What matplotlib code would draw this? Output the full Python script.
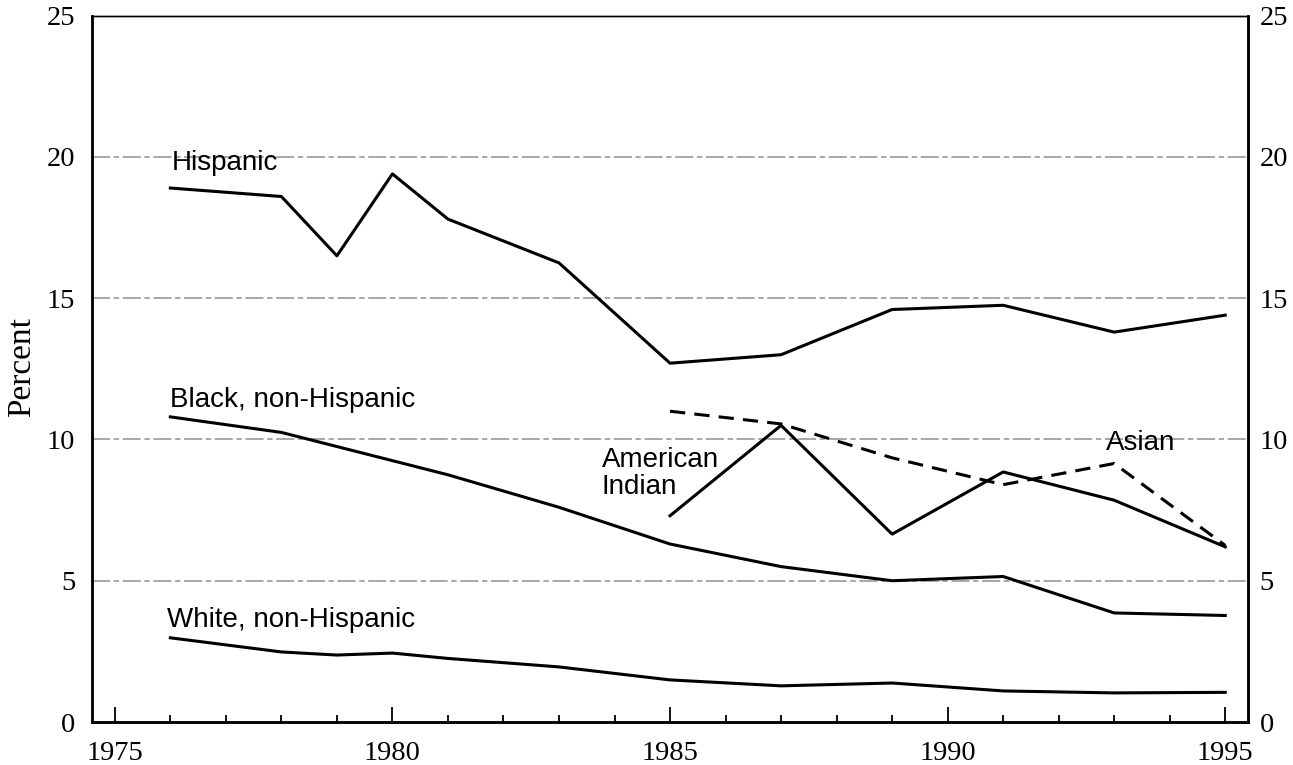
import matplotlib
matplotlib.use("Agg")
import matplotlib.pyplot as plt
from matplotlib.ticker import MultipleLocator

# Data
hisp_years = [1976, 1978, 1979, 1980, 1981, 1983, 1985, 1987, 1989, 1991, 1993, 1995]
hisp_vals = [18.9, 18.6, 16.5, 19.4, 17.8, 16.25, 12.7, 13.0, 14.6, 14.75, 13.8, 14.4]

black_years = [1976, 1978, 1979, 1980, 1981, 1983, 1985, 1987, 1989, 1991, 1993, 1995]
black_vals = [10.8, 10.25, 9.75, 9.25, 8.75, 7.6, 6.3, 5.5, 5.0, 5.15, 3.86, 3.77]

white_years = [1976, 1978, 1979, 1980, 1981, 1983, 1985, 1987, 1989, 1991, 1993, 1995]
white_vals = [2.98, 2.48, 2.37, 2.44, 2.25, 1.95, 1.49, 1.28, 1.38, 1.1, 1.03, 1.05]

amind_years = [1985, 1987, 1989, 1991, 1993, 1995]
amind_vals = [7.3, 10.5, 6.65, 8.85, 7.85, 6.2]

asian_years = [1985, 1987, 1989, 1991, 1993, 1995]
asian_vals = [11.0, 10.55, 9.35, 8.4, 9.15, 6.25]

x_ticks = [1975, 1980, 1985, 1990, 1995]
y_ticks = [0, 5, 10, 15, 20, 25]

serif = ["Liberation Serif", "DejaVu Serif"]
sans = ["Liberation Sans", "DejaVu Sans"]

fig = plt.figure(figsize=(12.93, 7.65), dpi=100)
ax = fig.add_axes([0.0712, 0.0562, 0.8940, 0.9233])

lw = 2.2
for yv in [5, 10, 15, 20]:
    ax.axhline(yv, color="#a0a0a0", lw=1.3, ls=(0, (10, 2, 3, 2)), zorder=1)

ax.plot(hisp_years, hisp_vals, color="black", lw=lw, zorder=3)
ax.plot(black_years, black_vals, color="black", lw=lw, zorder=3)
ax.plot(white_years, white_vals, color="black", lw=lw, zorder=3)
ax.plot(amind_years, amind_vals, color="black", lw=lw, zorder=3)
ax.plot(asian_years, asian_vals, color="black", lw=lw, ls=(0, (5, 3)), zorder=3)

ax.set_xlim(1974.59, 1995.41)
ax.set_ylim(0, 25)

ax.xaxis.set_minor_locator(MultipleLocator(1))
ax.set_xticks(x_ticks)
ax.set_xticklabels([str(v) for v in x_ticks], family=serif, fontsize=20.5)
ax.tick_params(axis="x", which="major", direction="in", length=11, width=1.3, pad=14)
ax.tick_params(axis="x", which="minor", direction="in", length=5, width=1.3)

ax.set_yticks(y_ticks)
ax.set_yticklabels([str(v) for v in y_ticks], family=serif, fontsize=20.5)
ax.tick_params(axis="y", which="both", length=0, pad=12)

ax2 = ax.twinx()
ax2.set_ylim(0, 25)
ax2.set_yticks(y_ticks)
ax2.set_yticklabels([str(v) for v in y_ticks], family=serif, fontsize=20.5)
ax2.tick_params(axis="y", which="both", length=0, pad=8.5)

for a in (ax, ax2):
    for side in ["left", "right", "bottom"]:
        a.spines[side].set_linewidth(1.8)
    a.spines["top"].set_linewidth(1.0)

fig.text(22 / 1293, 1 - 367 / 765, "Percent", family=serif, fontsize=24,
         rotation=90, ha="center", va="center")

fs = 20
ax.text(1976.03, 19.54, "Hispanic", family=sans, fontsize=fs, ha="left", va="baseline", zorder=4)
ax.text(1976.0, 11.16, "Black, non-Hispanic", family=sans, fontsize=fs, ha="left", va="baseline", zorder=4)
ax.text(1975.94, 3.37, "White, non-Hispanic", family=sans, fontsize=fs, ha="left", va="baseline", zorder=4)
ax.text(1983.77, 9.03, "American", family=sans, fontsize=fs, ha="left", va="baseline", zorder=4)
ax.text(1983.77, 8.06, "Indian", family=sans, fontsize=fs, ha="left", va="baseline", zorder=4)
ax.text(1992.85, 9.63, "Asian", family=sans, fontsize=fs, ha="left", va="baseline", zorder=4)

fig.savefig("out.png", dpi=100)
